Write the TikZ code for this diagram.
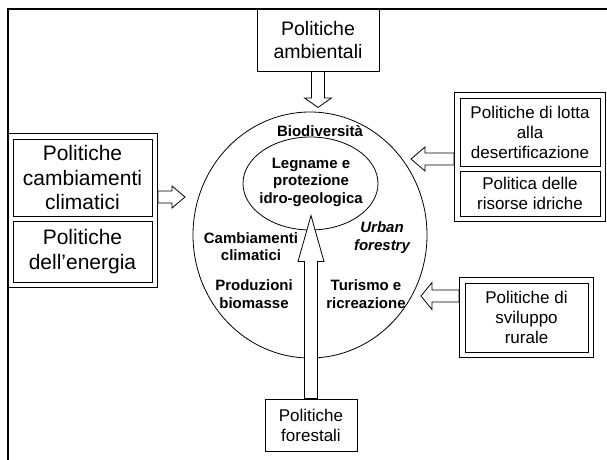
\documentclass[tikz,border=0pt]{standalone}
\usepackage{fontspec}
\setmainfont{Liberation Sans}
\usetikzlibrary{calc,fit,shapes.geometric}
\newcommand{\blockarrow}[5]{%
  \coordinate (ba-b) at ($(#2)!#5!(#1)$);
  \draw[blockarr] ($(#1)!#3!90:(#2)$) -- ($(ba-b)!#3!90:(#2)$) -- ($(ba-b)!#4!90:(#2)$) -- (#2)
    -- ($(ba-b)!#4!-90:(#2)$) -- ($(ba-b)!#3!-90:(#2)$) -- ($(#1)!#3!-90:(#2)$) -- cycle;}
\begin{document}
\begin{tikzpicture}[x=1pt,y=-1pt,
  box/.style={draw, line width=0.9pt, inner sep=0pt, align=center, fill=white},
  bigtxt/.style={font=\fontsize{21}{24.5}\selectfont},
  midtxt/.style={font=\fontsize{19.5}{23.5}\selectfont},
  smalltxt/.style={font=\fontsize{17}{20}\selectfont},
  intxt/.style={font=\fontsize{15}{17.5}\selectfont\bfseries, align=center, inner sep=0pt},
  itxt/.style={font=\fontsize{15}{17.5}\selectfont\bfseries\itshape, align=center, inner sep=0pt},
  grp/.style={draw, line width=0.9pt, inner sep=5pt},
  blockarr/.style={draw, line width=0.8pt, fill=white, line join=miter},
  ring/.style={draw, ellipse, line width=0.8pt, inner sep=0pt}]
\useasboundingbox (0,0) rectangle (607,459);
\fill[white] (0,0) rectangle (607,459);
% frame
\draw[line width=2.5pt] (8,475) -- (8,9) -- (620,9);
% circles
\node[ring, minimum width=234pt, minimum height=246pt] (outer) at (310,235) {};
\node[ring, minimum width=135pt, minimum height=93pt] (inner) at (310.5,183.5) {};
% texts in circle
\node[intxt] (bio) at (320,131) {Biodiversità};
\node[intxt] (leg) at (311,182) {Legname e\\protezione\\idro-geologica};
\node[intxt] (cam) at (251,246.5) {Cambiamenti\\climatici};
\node[intxt] (pro) at (254,294) {Produzioni\\biomasse};
\node[itxt] (urb) at (382,237.5) {Urban\\forestry};
\node[intxt] (tur) at (366,294) {Turismo e\\ricreazione};
% boxes
\node[box, midtxt, minimum width=122pt, minimum height=62pt] (amb) at (318,40) {Politiche\\ambientali};
\node[box, bigtxt, minimum width=139pt, minimum height=77pt] (clim) at (82.5,177.5) {Politiche\\cambiamenti\\climatici};
\node[box, bigtxt, minimum width=139pt, minimum height=61pt] (ener) at (82.5,251.5) {Politiche\\dell’energia};
\node[grp, fit=(clim)(ener)] (lgrp) {};
\node[box, smalltxt, minimum width=140pt, minimum height=68pt] (des) at (530,132) {Politiche di lotta\\alla\\desertificazione};
\node[box, smalltxt, minimum width=140pt, minimum height=45pt] (idr) at (530,193.5) {Politica delle\\risorse idriche};
\node[grp, fit=(des)(idr)] (rgrp) {};
\node[box, smalltxt, minimum width=123pt, minimum height=69pt] (rur) at (526.5,317.5) {Politiche di\\sviluppo\\rurale};
\node[grp, fit=(rur)] (rgrp2) {};
\node[box, smalltxt, minimum width=92pt, minimum height=52pt] (fore) at (311,425) {Politiche\\forestali};
% arrows
\coordinate (dtip) at ($(amb.south)+(0,36)$);
\blockarrow{amb.south}{dtip}{6.5pt}{13.5pt}{9.5pt}
\coordinate (utip) at ($(fore.north)+(0,-183)$);
\blockarrow{fore.north}{utip}{6.5pt}{13pt}{46pt}
\coordinate (ltip) at (185,197);
\coordinate (lst) at (lgrp.east |- ltip);
\blockarrow{lst}{ltip}{6pt}{11pt}{13pt}
\coordinate (r1tip) at (411,159);
\coordinate (r1st) at (rgrp.west |- r1tip);
\blockarrow{r1st}{r1tip}{6pt}{12pt}{14pt}
\coordinate (r2tip) at (421,296);
\coordinate (r2st) at (rgrp2.west |- r2tip);
\blockarrow{r2st}{r2tip}{6pt}{13.5pt}{11pt}
\end{tikzpicture}
\end{document}
